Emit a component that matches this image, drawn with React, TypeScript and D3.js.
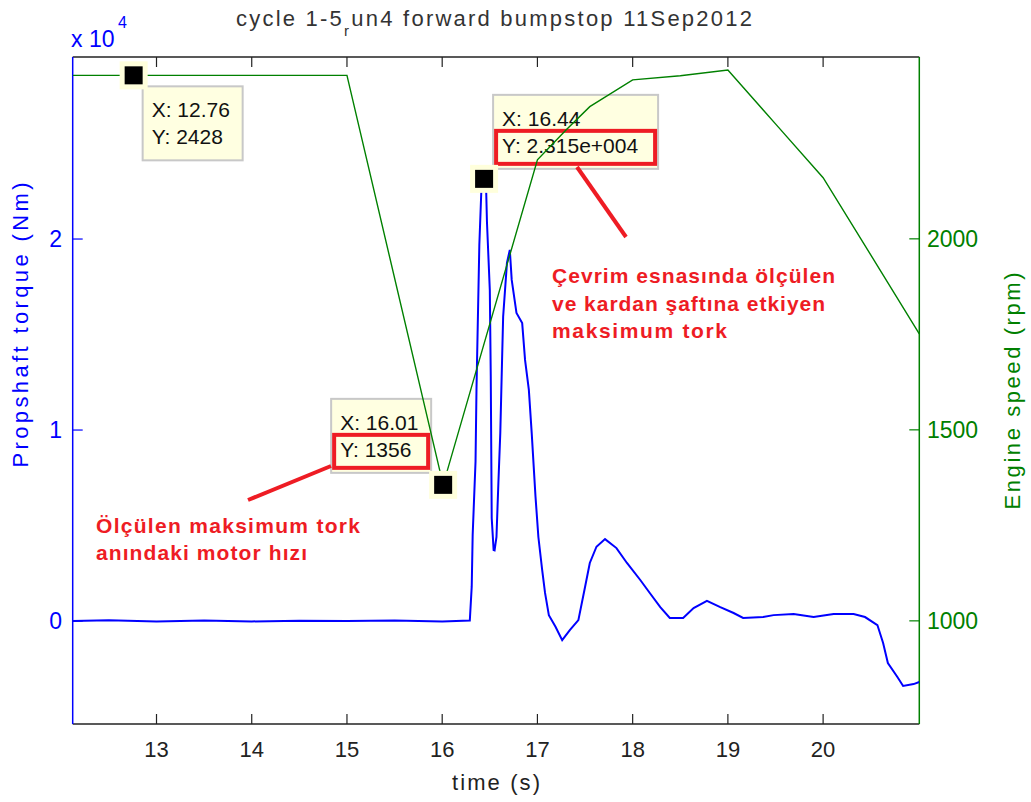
import * as d3 from 'd3';

// torque trace (blue, left axis)
const torqueTime = [12.12, 12.5, 13.0, 13.5, 14.0, 14.5, 15.0, 15.5, 16.0, 16.29,
  16.31, 16.32, 16.35, 16.36, 16.39, 16.41, 16.42, 16.44, 16.46, 16.47, 16.50, 16.51, 16.52, 16.54, 16.55,
  16.57, 16.59, 16.61, 16.63, 16.64, 16.68, 16.71, 16.73, 16.78, 16.84, 16.87, 16.91, 16.94, 16.98,
  17.01, 17.05, 17.08, 17.12, 17.19, 17.26, 17.34, 17.43, 17.50, 17.55, 17.62, 17.71, 17.83, 17.94,
  18.08, 18.18, 18.29, 18.39, 18.53, 18.64, 18.78, 18.92, 19.06, 19.16, 19.37, 19.48, 19.69, 19.90,
  20.11, 20.32, 20.44, 20.57, 20.63, 20.68, 20.78, 20.84, 20.95, 21.01];
const torqueNm = [0, 40, -30, 30, -20, 20, 0, 30, -20, 30,
  1800, 4500, 8340, 12100, 19700, 22400, 23150, 23150, 22900, 20900, 17330, 12790, 5390, 3720, 3700,
  4410, 7230, 9840, 13930, 15930, 18750, 19430, 17860, 16130, 15600, 13670, 12100, 9840, 6500,
  4400, 2670, 1470, 310, -300, -1000, -470, 50, 1780, 3040, 3890, 4290, 3820, 3040,
  2150, 1470, 730, 160, 160, 680, 1060, 730, 420, 160, 210, 310, 370, 210,
  370, 370, 210, -210, -1150, -2200, -2930, -3400, -3300, -3190];

// engine speed trace (green, right axis)
const speedTime = [12.12, 15.0, 16.01, 17.0, 17.3, 17.55, 18.0, 18.5, 19.0, 19.5, 20.0, 20.5, 21.01];
const speedRpm = [2428, 2428, 1356, 2207, 2285, 2346, 2416, 2427, 2442, 2301, 2160, 1958, 1751];

const xTicks = [13, 14, 15, 16, 17, 18, 19, 20];
const torqueTicks = [0, 10000, 20000];
const torqueTickLabels = ['0', '1', '2'];
const speedTicks = [1000, 1500, 2000];

// data tips
const tipTime = [12.76, 16.01, 16.44];
const tipValue = [2428, 1356, 23150];
const tipAxis = ['speed', 'speed', 'torque'];
const tipXText = ['12.76', '16.01', '16.44'];
const tipYText = ['2428', '1356', '2.315e+004'];

const W = 1031;
const H = 802;
const left = 72.7, right = 919.3, top = 57, bottom = 724;
const font = '"Liberation Sans", Arial, sans-serif';
const BLUE = '#0000ff';
const GREEN = '#008000';
const RED = '#ee1c24';

export default function App() {
  const x = d3.scaleLinear().domain([12.12, 21.01]).range([left, right]);
  const yT = d3.scaleLinear().domain([-5390, 29530]).range([bottom, top]);
  const yS = d3.scaleLinear().domain([730, 2476]).range([bottom, top]);

  const torqueLine = d3.line<number>().x((_, i) => x(torqueTime[i])).y(d => yT(d));
  const speedLine = d3.line<number>().x((_, i) => x(speedTime[i])).y(d => yS(d));

  const tips = tipTime.map((t, i) => {
    const px = x(t);
    const py = tipAxis[i] === 'speed' ? yS(tipValue[i]) : yT(tipValue[i]);
    return { px, py, i };
  });

  // box placement relative to each marker
  const boxes = [
    { dx: 9, dy: 11, w: 100, h: 74, red: false },
    { dx: -112, dy: -86, w: 100, h: 74, red: true },
    { dx: 9, dy: -84, w: 165, h: 74, red: true },
  ];

  return (
    <svg width={W} height={H} style={{ position: 'absolute', left: 0, top: 0, background: '#fff' }}
      fontFamily={font}>
      <defs>
        <clipPath id="plot">
          <rect x={left} y={top} width={right - left} height={bottom - top} />
        </clipPath>
      </defs>

      {/* title, with the tex-style subscript r */}
      <text x={236} y={26} fill="#333" fontSize={22} textLength={516} lengthAdjust="spacing">
        cycle 1-5<tspan dy={10} fontSize={15}>r</tspan><tspan dy={-10}>un4 forward bumpstop 11Sep2012</tspan>
      </text>

      {/* axes frame */}
      <line x1={left} x2={right} y1={top} y2={top} stroke="#222" strokeWidth={1.5} />
      <line x1={left} x2={right} y1={bottom} y2={bottom} stroke="#222" strokeWidth={1.5} />
      <line x1={left} x2={left} y1={top} y2={bottom} stroke={BLUE} strokeWidth={1.5} />
      <line x1={right} x2={right} y1={top} y2={bottom} stroke={GREEN} strokeWidth={1.5} />

      {/* x ticks */}
      {xTicks.map(t => (
        <g key={t}>
          <line x1={x(t)} x2={x(t)} y1={bottom} y2={bottom - 10} stroke="#222" strokeWidth={1.2} />
          <line x1={x(t)} x2={x(t)} y1={top} y2={top + 10} stroke="#222" strokeWidth={1.2} />
          <text x={x(t)} y={757} textAnchor="middle" fontSize={22} fill="#222">{t}</text>
        </g>
      ))}
      <text x={(left + right) / 2} y={790} textAnchor="middle" fontSize={22} fill="#222"
        textLength={88} lengthAdjust="spacing">time (s)</text>

      {/* left axis */}
      {torqueTicks.map((v, i) => (
        <g key={v}>
          <line x1={left} x2={left + 10} y1={yT(v)} y2={yT(v)} stroke={BLUE} strokeWidth={1.2} />
          <text x={62} y={yT(v) + 8} textAnchor="end" fontSize={23} fill={BLUE}>{torqueTickLabels[i]}</text>
        </g>
      ))}
      <text x={71} y={47} fontSize={23} fill={BLUE}>x 10</text>
      <text x={118} y={28} fontSize={16} fill={BLUE}>4</text>
      <text transform="translate(28,325) rotate(-90)" textAnchor="middle" fontSize={22} fill={BLUE}
        textLength={285} lengthAdjust="spacing">Propshaft torque (Nm)</text>

      {/* right axis */}
      {speedTicks.map(v => (
        <g key={v}>
          <line x1={right - 10} x2={right} y1={yS(v)} y2={yS(v)} stroke={GREEN} strokeWidth={1.2} />
          <text x={927} y={yS(v) + 8} fontSize={23} fill={GREEN}>{v}</text>
        </g>
      ))}
      <text transform="translate(1020,391) rotate(-90)" textAnchor="middle" fontSize={22} fill={GREEN}
        textLength={237} lengthAdjust="spacing">Engine speed (rpm)</text>

      {/* data tip boxes */}
      {tips.map(({ px, py, i }) => {
        const b = boxes[i];
        const bx = px + b.dx;
        const by = py + b.dy;
        return (
          <g key={'box' + i}>
            <rect x={bx} y={by} width={b.w} height={b.h} fill="#ffffe1" stroke="#c8c8c8" strokeWidth={2} />
            <text x={bx + 9} y={by + 31} fontSize={21} fill="#111">{'X: ' + tipXText[i]}</text>
            <text x={bx + 9} y={by + 58} fontSize={21} fill="#111">{'Y: ' + tipYText[i]}</text>
            {b.red && (
              <rect x={bx + 3} y={by + 36} width={b.w - 6} height={33} fill="none" stroke={RED} strokeWidth={4} />
            )}
          </g>
        );
      })}

      {/* series */}
      <g clipPath="url(#plot)">
        <path d={torqueLine(torqueNm) || ''} fill="none" stroke={BLUE} strokeWidth={2} />
        <path d={speedLine(speedRpm) || ''} fill="none" stroke={GREEN} strokeWidth={1.4} />
      </g>

      {/* markers */}
      {tips.map(({ px, py, i }) => (
        <g key={'mk' + i}>
          <rect x={px - 14} y={py - 14} width={28} height={28} fill="#ffffdc" />
          <rect x={px - 9} y={py - 9} width={18} height={18} fill="#000" />
        </g>
      ))}

      {/* red annotations */}
      <line x1={248} y1={500} x2={331} y2={466} stroke={RED} strokeWidth={4} />
      <line x1={577} y1={167} x2={626} y2={237} stroke={RED} strokeWidth={4} />
      <g fill={RED} fontSize={21} fontWeight="bold">
        <text x={96} y={533} textLength={264} lengthAdjust="spacing">Ölçülen maksimum tork</text>
        <text x={96} y={560} textLength={211} lengthAdjust="spacing">anındaki motor hızı</text>
        <text x={552} y={283} textLength={283} lengthAdjust="spacing">Çevrim esnasında ölçülen</text>
        <text x={552} y={311} textLength={273} lengthAdjust="spacing">ve kardan şaftına etkiyen</text>
        <text x={552} y={338} textLength={175} lengthAdjust="spacing">maksimum tork</text>
      </g>
    </svg>
  );
}
